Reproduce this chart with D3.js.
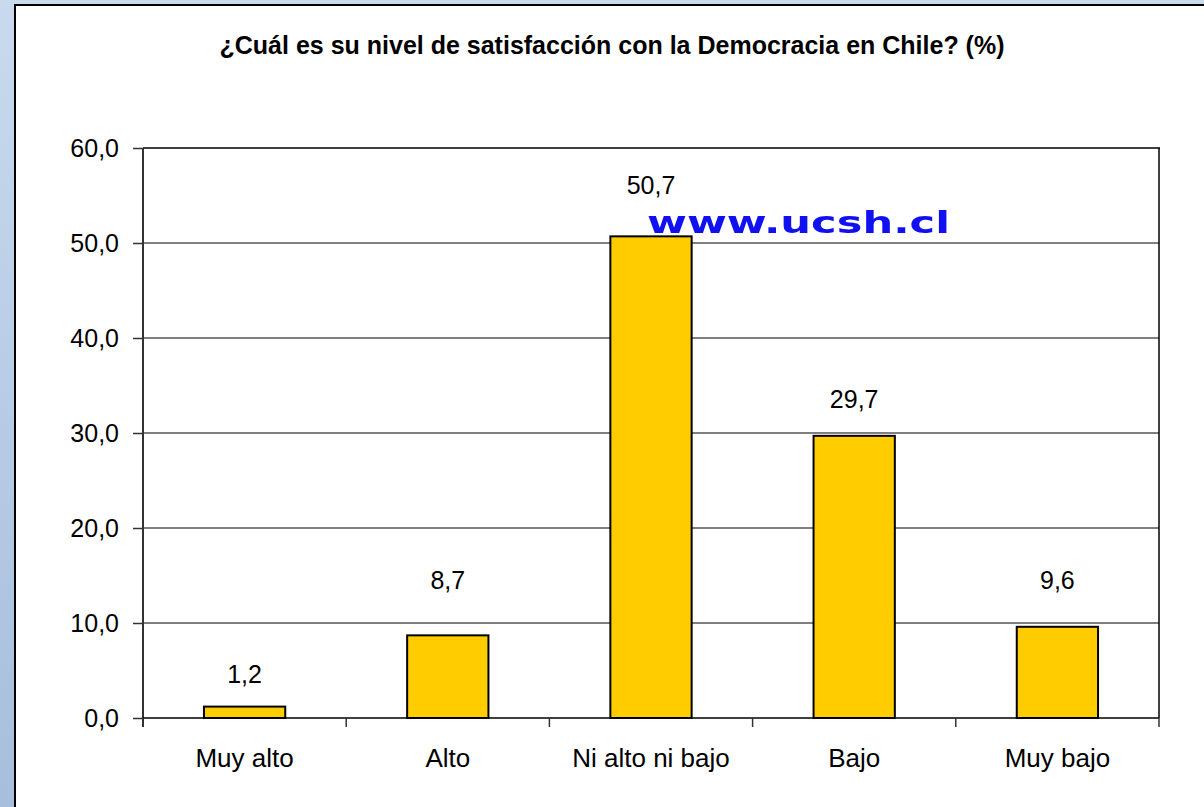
<!DOCTYPE html>
<html>
<head>
<meta charset="utf-8">
<script src="https://cdn.jsdelivr.net/npm/d3@7"></script>
<style>
  html, body { margin: 0; padding: 0; width: 1204px; height: 807px; overflow: hidden; }
  body { background: linear-gradient(180deg, #c9daef 0%, #b3c9e4 60%, #a7bfdc 100%); }
  svg { display: block; }
</style>
</head>
<body>
<svg id="chart" width="1204" height="807"></svg>
<script>
const title = "¿Cuál es su nivel de satisfacción con la Democracia en Chile? (%)";
const categories = ["Muy alto", "Alto", "Ni alto ni bajo", "Bajo", "Muy bajo"];
const values = [1.2, 8.7, 50.7, 29.7, 9.6];
const yTicks = [0, 10, 20, 30, 40, 50, 60];
const watermark = "www.ucsh.cl";

// layout (not data)
const labelLift = [24, 46, 42, 28, 38];
const plot = { left: 143, right: 1159, top: 148, bottom: 718 };
const fmt = v => d3.format(".1f")(v).replace(".", ",");

const svg = d3.select("#chart");

// white panel
svg.append("rect")
  .attr("x", 15).attr("y", 5).attr("width", 1204).attr("height", 820)
  .attr("fill", "#ffffff").attr("stroke", "#000").attr("stroke-width", 2);

const x = d3.scaleBand().domain(categories).range([plot.left, plot.right]).paddingInner(0.6).paddingOuter(0.3);
const y = d3.scaleLinear().domain([0, 60]).range([plot.bottom, plot.top]);

// gridlines
svg.append("g").selectAll("line").data(yTicks.filter(d => d > 0 && d < 60)).join("line")
  .attr("x1", plot.left).attr("x2", plot.right)
  .attr("y1", d => y(d)).attr("y2", d => y(d))
  .attr("stroke", "#000").attr("stroke-width", 1);

// plot border top & right
svg.append("line").attr("x1", plot.left).attr("x2", plot.right + 1).attr("y1", y(60)).attr("y2", y(60))
  .attr("stroke", "#000").attr("stroke-width", 1.5);
svg.append("line").attr("x1", plot.right).attr("x2", plot.right).attr("y1", y(60)).attr("y2", plot.bottom)
  .attr("stroke", "#000").attr("stroke-width", 1.5);

// y axis
const yAxis = d3.axisLeft(y).tickValues(yTicks).tickSize(10).tickPadding(14).tickFormat(fmt);
const gy = svg.append("g").attr("transform", `translate(${plot.left},0)`).call(yAxis);
gy.select(".domain").attr("stroke", "#333").attr("stroke-width", 2).attr("d", `M0,${plot.top}V${plot.bottom + 9}`);
gy.selectAll(".tick line").attr("stroke", "#333").attr("stroke-width", 1.5);
gy.selectAll(".tick text")
  .attr("font-family", "Liberation Sans, Arial, sans-serif").attr("font-size", 25).attr("fill", "#000");

// x axis line with boundary ticks
svg.append("line").attr("x1", plot.left).attr("x2", plot.right).attr("y1", plot.bottom).attr("y2", plot.bottom)
  .attr("stroke", "#000").attr("stroke-width", 1.5);
const bounds = d3.range(categories.length + 1).map(i => plot.left + (plot.right - plot.left) * i / categories.length);
svg.append("g").selectAll("line").data(bounds).join("line")
  .attr("x1", d => d).attr("x2", d => d).attr("y1", plot.bottom).attr("y2", plot.bottom + 9)
  .attr("stroke", "#333").attr("stroke-width", 1.5);

// x labels
svg.append("g").selectAll("text").data(categories).join("text")
  .attr("x", d => x(d) + x.bandwidth() / 2).attr("y", 767)
  .attr("text-anchor", "middle")
  .attr("font-family", "Liberation Sans, Arial, sans-serif").attr("font-size", 26).attr("fill", "#000")
  .text(d => d);

// bars
svg.append("g").selectAll("rect").data(values).join("rect")
  .attr("x", (d, i) => x(categories[i]))
  .attr("y", d => y(d))
  .attr("width", x.bandwidth())
  .attr("height", d => y(0) - y(d))
  .attr("fill", "#ffcc00").attr("stroke", "#000").attr("stroke-width", 2);

// value labels
svg.append("g").selectAll("text").data(values).join("text")
  .attr("x", (d, i) => x(categories[i]) + x.bandwidth() / 2)
  .attr("y", (d, i) => y(d) - labelLift[i])
  .attr("text-anchor", "middle")
  .attr("font-family", "Liberation Sans, Arial, sans-serif").attr("font-size", 25).attr("fill", "#000")
  .text(d => fmt(d));

// watermark
svg.append("text")
  .attr("x", 647).attr("y", 233)
  .attr("font-family", "DejaVu Sans, sans-serif").attr("font-weight", "bold")
  .attr("font-size", 31).attr("fill", "#1010f0")
  .attr("textLength", 303).attr("lengthAdjust", "spacingAndGlyphs")
  .style("filter", "blur(0.4px)")
  .text(watermark);

// title
svg.append("text")
  .attr("x", 612).attr("y", 54)
  .attr("text-anchor", "middle")
  .attr("font-family", "Liberation Sans, Arial, sans-serif").attr("font-weight", "bold")
  .attr("font-size", 25).attr("fill", "#000")
  .text(title);
</script>
</body>
</html>
